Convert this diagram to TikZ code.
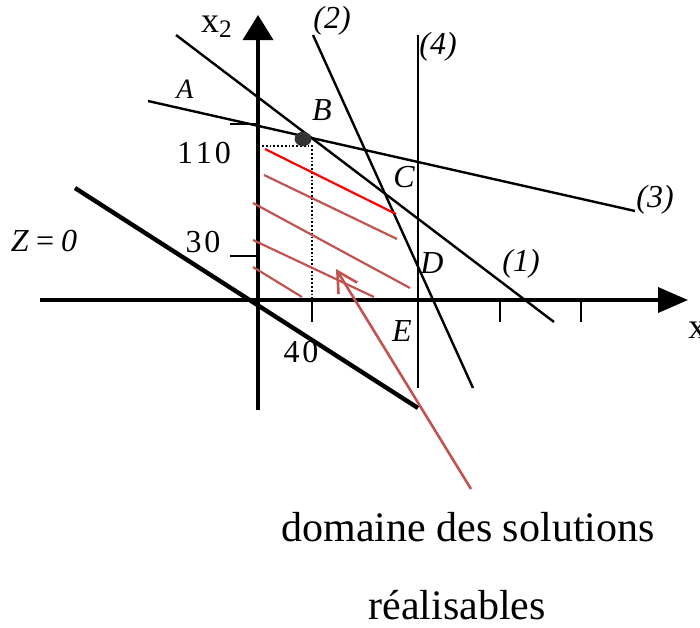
\documentclass[tikz,border=0pt]{standalone}
\usepackage{fontspec}
\setmainfont{Liberation Serif}
\usepackage{xcolor}
\usetikzlibrary{arrows.meta}
\definecolor{hatchred}{RGB}{192,84,80}

\begin{document}
\begin{tikzpicture}[
  x=0.5pt,y=-0.5pt,
  axis/.style={line width=1.8pt},
  cstr/.style={line width=1.2pt},
  tick/.style={line width=0.7pt},
  hatch/.style={draw=hatchred,line width=1.1pt},
  lbl/.style={font=\fontsize{16}{18}\selectfont\itshape,inner sep=0pt},
  num/.style={font=\fontsize{16}{18}\selectfont,inner sep=0pt},
  legendtext/.style={font=\fontsize{21}{24}\selectfont,inner sep=0pt},
]
\useasboundingbox (0,0) rectangle (700,627);

% points of the figure
\coordinate (O) at (258,300);
\coordinate (B) at (303,139);
\coordinate (P40) at (312,300);
\coordinate (P110) at (262,146);

% axes
\draw[axis,-{Triangle[length=15pt,width=12.5pt]}] (40,300) -- (688,300);
\draw[axis,-{Triangle[length=12.5pt,width=15pt]}] (258,410) -- (258,15);
\foreach \t in {312,500,581}{
  \draw[tick] (\t,300) -- (\t,322);
}
\draw[tick] (230,256) -- (O |- 0,256);
\draw[tick] (230,124) -- (O |- 0,124);

% constraints
\draw[cstr] (176,35) -- (554,322);   % (1)
\draw[cstr] (313,35) -- (473,388);   % (2)
\draw[cstr] (148,101) -- (635,211);  % (3)
\draw[cstr] (418,35) -- (418,388);   % (4)
\draw[line width=2.2pt] (75,188) -- (418,408);  % Z=0

% optimum
\draw[densely dotted,line width=0.9pt] (P110) -- (P40 |- P110) -- (P40);
\fill[black!80] (B) ellipse[x radius=4.2pt,y radius=3.6pt];

% feasible region hatching
\draw[red,line width=1.1pt] (265,149) -- (396,214);
\draw[hatch] (264,175) -- (397,239);
\draw[hatch] (253,203) -- (410,288);
\draw[hatch] (253,240) -- (374,297);
\draw[hatch] (253,267) -- (302,297);

% labels
\node[num,font=\fontsize{18}{20}\selectfont] (x2) at (217,27) {x\textsubscript{2}};
\node[num,font=\fontsize{18}{20}\selectfont,anchor=west] (x1) at (688,333) {x\textsubscript{1}};
\node[lbl] (l1) at (521,264) {(1)};
\node[lbl] (l2) at (332,21) {(2)};
\node[lbl] (l3) at (655,200) {(3)};
\node[lbl] (l4) at (438,47) {(4)};
\node[lbl,font=\fontsize{14}{16}\selectfont\itshape] (A) at (185,89) {A};
\node[lbl] (lB) at (322,110) {B};
\node[lbl] (C) at (404,177) {C};
\node[lbl] (D) at (432,263) {D};
\node[lbl] (E) at (402,331) {E};
\node[lbl] (Z) at (44,241) {Z\,=\,0};
\node[num] (n110) at (204,153) {1\hspace{1.5pt}1\hspace{1.5pt}0};
\node[num] (n30) at (203,242) {3\hspace{1.5pt}0};
\node[num] (n40) at (301,352) {4\hspace{1.5pt}0};

% caption and pointer
\node[legendtext] (dom) at (468,527) {domaine des solutions};
\node[legendtext] (real) at (457,605) {réalisables};
\coordinate (tail) at (471,489);
\coordinate (tip) at (336,269);
\draw[draw=hatchred,line width=1.3pt,-{Straight Barb[length=10pt,width=11pt]}] (tail) -- (tip);
\end{tikzpicture}
\end{document}
